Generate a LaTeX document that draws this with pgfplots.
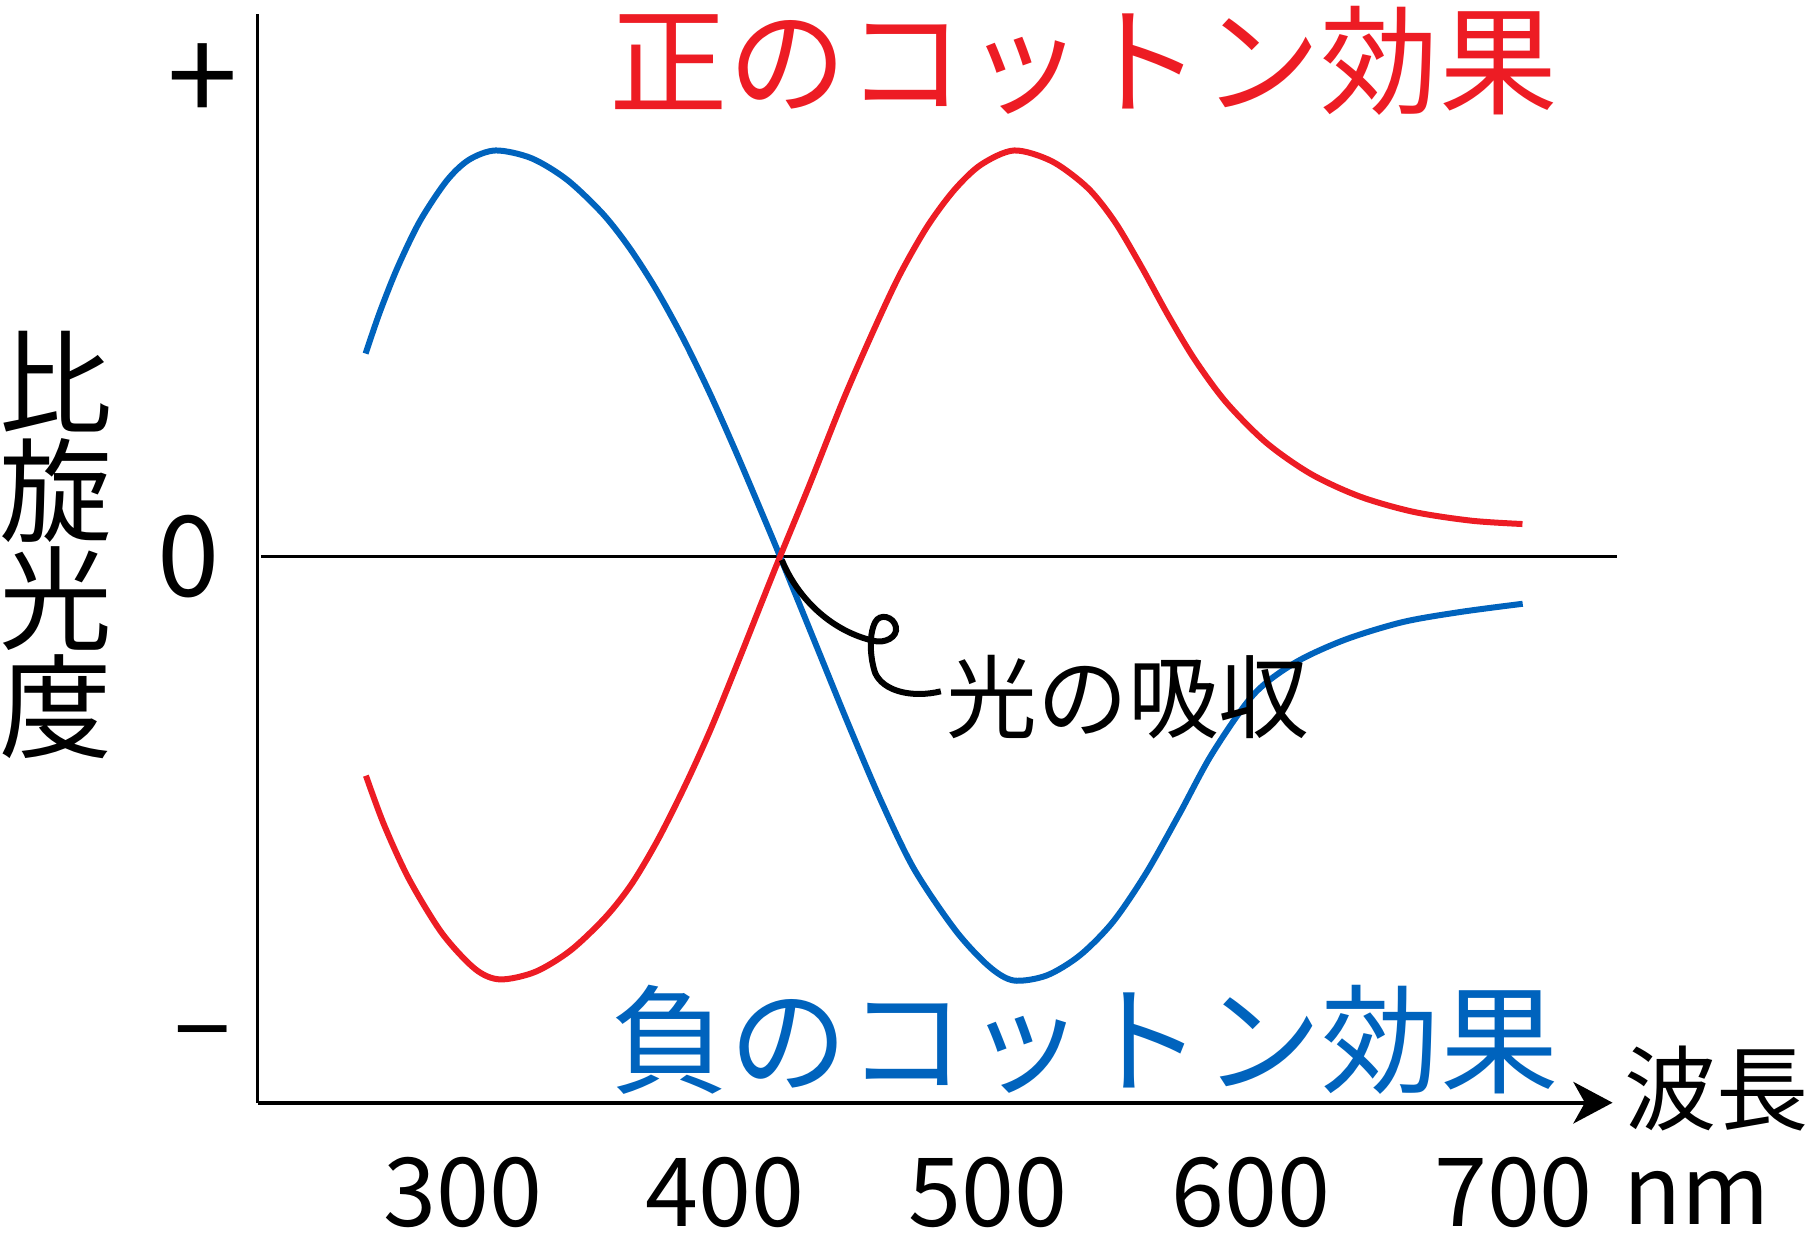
\documentclass[border=0pt]{standalone}
\usepackage{fontspec}
\setmainfont{Noto Sans CJK JP}
\usepackage{pgfplots}
\usepackage{pgfplotstable}
\pgfplotsset{compat=1.18}
\usetikzlibrary{arrows.meta}

\definecolor{cottonred}{RGB}{237,28,36}
\definecolor{cottonblue}{RGB}{0,99,189}

% wavelength (nm) vs. specific rotation (arbitrary units)
\pgfplotstableread{
x y
263.07 176.1
268.46 212.0
275.26 251.0
283.73 291.0
293.90 326.0
302.41 344.3
312.59 352.4
326.18 345.7
339.74 327.0
353.33 297.5
363.51 267.9
373.68 231.8
383.86 189.6
394.08 141.8
404.25 89.7
414.43 35.0
420.83 0
434.04 -74.0
446.62 -144.4
459.25 -212.0
471.84 -271.2
487.63 -324.5
500.26 -355.5
509.69 -367.9
522.28 -363.6
534.91 -346.2
547.50 -317.2
560.13 -274.9
572.72 -223.9
585.31 -171.0
601.10 -119.7
616.84 -92.2
635.75 -72.3
657.81 -56.9
679.87 -48.1
703.51 -41.0
}\negative

\pgfplotstableread{
x y
263.20 -190.2
270.13 -233.0
279.61 -280.0
292.19 -327.0
304.78 -358.0
314.25 -367.0
327.60 -360.5
341.00 -342.0
354.40 -313.0
364.40 -284.0
374.40 -245.5
384.96 -197.5
394.50 -149.5
404.50 -93.5
414.50 -36.0
420.83 0
432.00 62.0
444.96 136.3
456.58 197.0
466.50 245.0
476.89 286.5
487.11 318.0
497.28 340.0
509.96 352.4
524.39 342.9
537.98 319.8
548.20 290.7
558.33 251.7
568.51 209.5
578.68 170.9
590.61 133.9
605.83 98.9
622.85 71.7
641.49 52.1
661.89 38.8
683.95 31.1
703.42 28.2
}\positive

\begin{document}
\begin{tikzpicture}
\begin{axis}[
    scale only axis,
    width=294pt, height=236.25pt,
    xmin=221.93, xmax=737.72,
    ymin=-474, ymax=471,
    axis x line*=bottom,
    axis y line*=left,
    x axis line style={line width=0.95pt, -{Stealth[length=8.5pt,width=9pt,inset=2.5pt]}},
    y axis line style={line width=0.78pt},
    xtick={300,400,500,600,700},
    xticklabels={300,400,500,600,700},
    ytick={-425,0,411},
    yticklabels={{\fontsize{22}{26}\selectfont −},0\kern6pt,{\fontsize{27.5}{30}\selectfont +}},
    major tick length=0pt,
    tick style={draw=none},
    /pgf/number format/assume math mode=true,
    xticklabel style={font=\fontsize{20.7}{24}\selectfont, anchor=base, yshift=-26.9pt, inner sep=0pt},
    yticklabel style={font=\fontsize{24.3}{28}\selectfont, anchor=center, xshift=-12pt, inner sep=0pt},
    clip=false,
]
% picture frame
\path (axis cs:124.56,-607) rectangle (axis cs:812.28,483);

% zero line
\addplot[black, line width=0.45pt] coordinates {(223.2,0) (739.5,0)};

\addplot[cottonblue, line width=1.3pt, smooth] table {\negative};
\addplot[cottonred, line width=1.3pt, smooth] table {\positive};

% leader to the absorption label
\draw[black, line width=1.3pt]
  (axis cs:421.49,-3) .. controls (axis cs:428.07,-39) and (axis cs:441.23,-65) ..
  (axis cs:456.14,-73) .. controls (axis cs:460.53,-76) and (axis cs:465.79,-70) ..
  (axis cs:464.91,-61) .. controls (axis cs:464.04,-52) and (axis cs:458.77,-49) ..
  (axis cs:457.02,-57) .. controls (axis cs:454.39,-69) and (axis cs:455.26,-89) ..
  (axis cs:457.02,-101) .. controls (axis cs:460.09,-117) and (axis cs:471.05,-123) ..
  (axis cs:482.02,-117);

\node[inner sep=0pt, text=cottonred, font=\fontsize{25.7}{30}\selectfont]
  at (axis cs:536.4,430.5) {正のコットン効果};
\node[inner sep=0pt, text=cottonblue, font=\fontsize{25.7}{30}\selectfont]
  at (axis cs:536.8,-419.5) {負のコットン効果};
\node[inner sep=0pt, font=\fontsize{19.7}{24}\selectfont]
  at (axis cs:553.3,-122.3) {光の吸収};
\node[inner sep=0pt, align=center, font=\fontsize{24.5}{23.5}\selectfont]
  at (axis cs:145.4,10) {比\\旋\\光\\度};
\node[inner sep=0pt, font=\fontsize{20}{24}\selectfont]
  at (axis cs:777.4,-462) {波長};
\node[inner sep=0pt, anchor=base, font=\fontsize{20.7}{24}\selectfont]
  at (axis cs:769.7,-580) {nm};
\end{axis}
\end{tikzpicture}
\end{document}
